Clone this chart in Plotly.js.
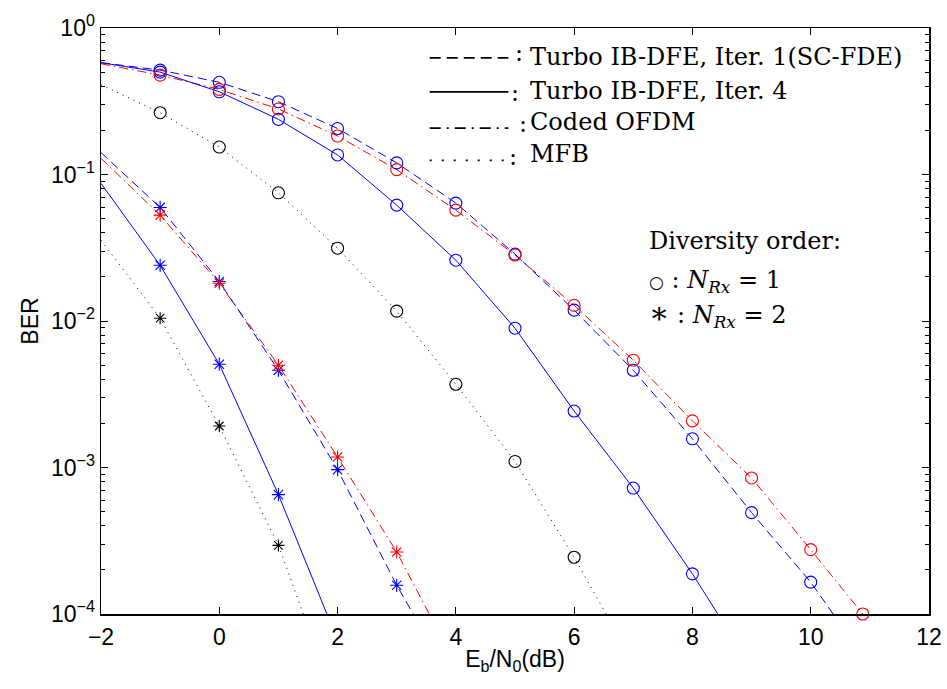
<!DOCTYPE html>
<html>
<head>
<meta charset="utf-8">
<script src="https://cdn.plot.ly/plotly-3.0.1.min.js"></script>
<style>
html,body{margin:0;padding:0;background:#fff;}
#chart{width:947px;height:689px;}
</style>
</head>
<body>
<div id="chart"></div>
<script>
// ---------- Data ----------
// Marker points (integer Eb/N0)
var snr1 = [-1, 0, 1, 2, 3, 4, 5, 6, 7, 8, 9, 10];
var ofdm1 = [0.477, 0.381, 0.280, 0.183, 0.108, 0.0571, 0.0282, 0.0128, 0.0054, 0.00208, 0.000848, 0.000275];
var iter1_1 = [0.516, 0.426, 0.314, 0.206, 0.120, 0.0638, 0.0286, 0.01186, 0.00461, 0.00157, 0.000492, 0.000165];
var snr4_1 = [-1, 0, 1, 2, 3, 4, 5, 6, 7, 8];
var iter4_1 = [0.50, 0.367, 0.238, 0.136, 0.0618, 0.026, 0.00893, 0.00243, 0.000724, 0.000188];
var snrMfb1 = [-1, 0, 1, 2, 3, 4, 5, 6];
var mfb1 = [0.264, 0.154, 0.075, 0.0314, 0.01167, 0.0037, 0.0011, 0.000244];

var snr2 = [-1, 0, 1, 2, 3];
var ofdm2 = [0.0528, 0.0181, 0.00499, 0.00118, 0.000265];
var iter1_2 = [0.0596, 0.0186, 0.00461, 0.000967, 0.000157];
var snr4_2 = [-1, 0, 1];
var iter4_2 = [0.024, 0.00507, 0.000653];
var mfb2 = [0.01045, 0.00192, 0.000294];

// Extra marker (red, N_Rx=1) at the bottom edge
var ofdm1ExtraX = [10.88];
var ofdm1ExtraY = [0.0001];

// Curve start (x = -2) and end (where BER reaches 1e-4) values
var startX = -2;
var ofdm1Start = 0.57, iter1_1Start = 0.58, iter4_1Start = 0.58, mfb1Start = 0.41;
var ofdm2Start = 0.129, iter1_2Start = 0.141, iter4_2Start = 0.087, mfb2Start = 0.0356;
var endY = 0.0001;
var ofdm1EndX = 10.88, iter1_1EndX = 10.38, iter4_1EndX = 8.43, mfb1EndX = 6.54;
var ofdm2EndX = 3.55, iter1_2EndX = 3.28, iter4_2EndX = 1.82, mfb2EndX = 1.42;

// Axis ticks
var xTicks = [-2, 0, 2, 4, 6, 8, 10, 12];
var yTicks = [1e-4, 1e-3, 1e-2, 1e-1, 1];
var yTickText = ['10<sup>\u22124</sup>', '10<sup>\u22123</sup>', '10<sup>\u22122</sup>', '10<sup>\u22121</sup>', '10<sup>0</sup>'];
var yMinorTicks = [];
[1e-4, 1e-3, 1e-2, 1e-1].forEach(function (d) { for (var k = 2; k <= 9; k++) yMinorTicks.push(k * d); });

// ---------- Build traces ----------
var BLUE = 'rgb(0,0,255)', RED = 'rgb(255,0,0)', BLACK = 'rgb(0,0,0)';
var DASH = '9px,5px', DASHDOT = '9px,4px,1.5px,4px', DOT = '1px,5px';

function curve(xs, ys, sx, sy, ex, color, dash) {
  var x = [sx].concat(xs, [ex]);
  var y = [sy].concat(ys, [endY]);
  return {x: x, y: y, mode: 'lines', type: 'scatter', showlegend: false, hoverinfo: 'skip',
          line: {color: color, width: 1, dash: dash}};
}
function marks(xs, ys, color, sym, size) {
  return {x: xs, y: ys, mode: 'markers', type: 'scatter', showlegend: false, cliponaxis: false,
          marker: {symbol: sym, size: size, color: color, line: {color: color, width: 1.1}}};
}
var CIR = 'circle-open', AST = 'asterisk-open';
var traces = [
  curve(snr1, ofdm1, startX, ofdm1Start, ofdm1EndX, RED, DASHDOT),
  curve(snr1, iter1_1, startX, iter1_1Start, iter1_1EndX, BLUE, DASH),
  curve(snr4_1, iter4_1, startX, iter4_1Start, iter4_1EndX, BLUE, 'solid'),
  curve(snrMfb1, mfb1, startX, mfb1Start, mfb1EndX, BLACK, DOT),
  curve(snr2, ofdm2, startX, ofdm2Start, ofdm2EndX, RED, DASHDOT),
  curve(snr2, iter1_2, startX, iter1_2Start, iter1_2EndX, BLUE, DASH),
  curve(snr4_2, iter4_2, startX, iter4_2Start, iter4_2EndX, BLUE, 'solid'),
  curve(snr4_2, mfb2, startX, mfb2Start, mfb2EndX, BLACK, DOT),
  marks(snr1, iter1_1, BLUE, CIR, 12),
  marks(snr4_1, iter4_1, BLUE, CIR, 12),
  marks(snrMfb1, mfb1, BLACK, CIR, 12),
  marks(snr1, ofdm1, RED, CIR, 12),
  marks(ofdm1ExtraX, ofdm1ExtraY, RED, CIR, 12),
  marks(snr2, iter1_2, BLUE, AST, 11),
  marks(snr4_2, iter4_2, BLUE, AST, 11),
  marks(snr4_2, mfb2, BLACK, AST, 10),
  marks(snr2, ofdm2, RED, AST, 11)
];

// ---------- Legend drawn as shapes + annotations ----------
var SERIF = 'DejaVu Serif, serif';
var LFS = 24;
var legendRows = [
  {y: 0.949, ty: 0.950, cx: 0.497, cy: 0.958, dash: '11px,6px', text: 'Turbo IB-DFE, Iter. 1(SC-FDE)'},
  {y: 0.891, ty: 0.893, cx: 0.493, cy: 0.889, dash: 'solid', text: 'Turbo IB-DFE, Iter. 4'},
  {y: 0.829, ty: 0.840, cx: 0.502, cy: 0.836, dash: '11px,6px,2px,6px', text: 'Coded OFDM'},
  {y: 0.774, ty: 0.785, cx: 0.490, cy: 0.780, dash: '2px,10px', text: 'MFB'}
];
var shapes = [], annotations = [];
legendRows.forEach(function (r) {
  shapes.push({type: 'line', xref: 'paper', yref: 'paper', x0: 0.397, x1: 0.492, y0: r.y, y1: r.y,
               line: {color: BLACK, width: 1.8, dash: r.dash}});
  annotations.push({xref: 'paper', yref: 'paper', x: r.cx, y: r.cy, xanchor: 'left', yanchor: 'middle',
                    showarrow: false, text: ':', font: {family: SERIF, size: LFS, color: BLACK}});
  annotations.push({xref: 'paper', yref: 'paper', x: 0.516, y: r.ty, xanchor: 'left', yanchor: 'middle',
                    showarrow: false, text: r.text, font: {family: SERIF, size: LFS, color: BLACK}});
});
annotations.push({xref: 'paper', yref: 'paper', x: 0.66, y: 0.637, xanchor: 'left', yanchor: 'middle',
                  showarrow: false, text: 'Diversity order:', font: {family: SERIF, size: LFS, color: BLACK}});
annotations.push({xref: 'paper', yref: 'paper', x: 0.66, y: 0.568, xanchor: 'left', yanchor: 'middle',
                  showarrow: false, text: '<span style="font-size:17px">\u25CB</span> : <i>N</i><sub><i>Rx</i></sub> = 1', font: {family: SERIF, size: LFS, color: BLACK}});
annotations.push({xref: 'paper', yref: 'paper', x: 0.66, y: 0.512, xanchor: 'left', yanchor: 'middle',
                  showarrow: false, text: '<span style="font-size:30px">\u2217</span> : <i>N</i><sub><i>Rx</i></sub> = 2', font: {family: SERIF, size: LFS, color: BLACK}});

var SANS = 'Liberation Sans, Arial, sans-serif';
var layout = {
  width: 947, height: 689,
  margin: {l: 101, r: 18, t: 28, b: 75},
  paper_bgcolor: '#fff', plot_bgcolor: '#fff',
  showlegend: false,
  font: {family: SANS, size: 22, color: BLACK},
  xaxis: {
    range: [-2, 12], tickvals: xTicks, ticks: 'inside', ticklen: 7, tickwidth: 1, tickcolor: BLACK,
    showline: true, linecolor: BLACK, linewidth: 1.5, mirror: 'allticks', showgrid: false, zeroline: false,
    tickfont: {family: SANS, size: 23}, ticklabelstandoff: 2,
    title: {text: 'E<sub>b</sub>/N<sub>0</sub>(dB)', font: {family: SANS, size: 23}, standoff: 2}
  },
  yaxis: {
    type: 'log', range: [-4, 0], tickvals: yTicks, ticktext: yTickText,
    ticks: 'inside', ticklen: 7, tickwidth: 1, tickcolor: BLACK,
    showline: true, linecolor: BLACK, linewidth: 1.5, mirror: 'allticks', showgrid: false, zeroline: false,
    tickfont: {family: SANS, size: 23},
    minor: {tickmode: 'array', tickvals: yMinorTicks, ticks: 'inside', ticklen: 4, tickwidth: 1, tickcolor: BLACK, showgrid: false},
    title: {text: 'BER', font: {family: SANS, size: 23}, standoff: 6}
  },
  shapes: shapes,
  annotations: annotations
};

Plotly.newPlot('chart', traces, layout, {displayModeBar: false, staticPlot: true});
</script>
</body>
</html>
